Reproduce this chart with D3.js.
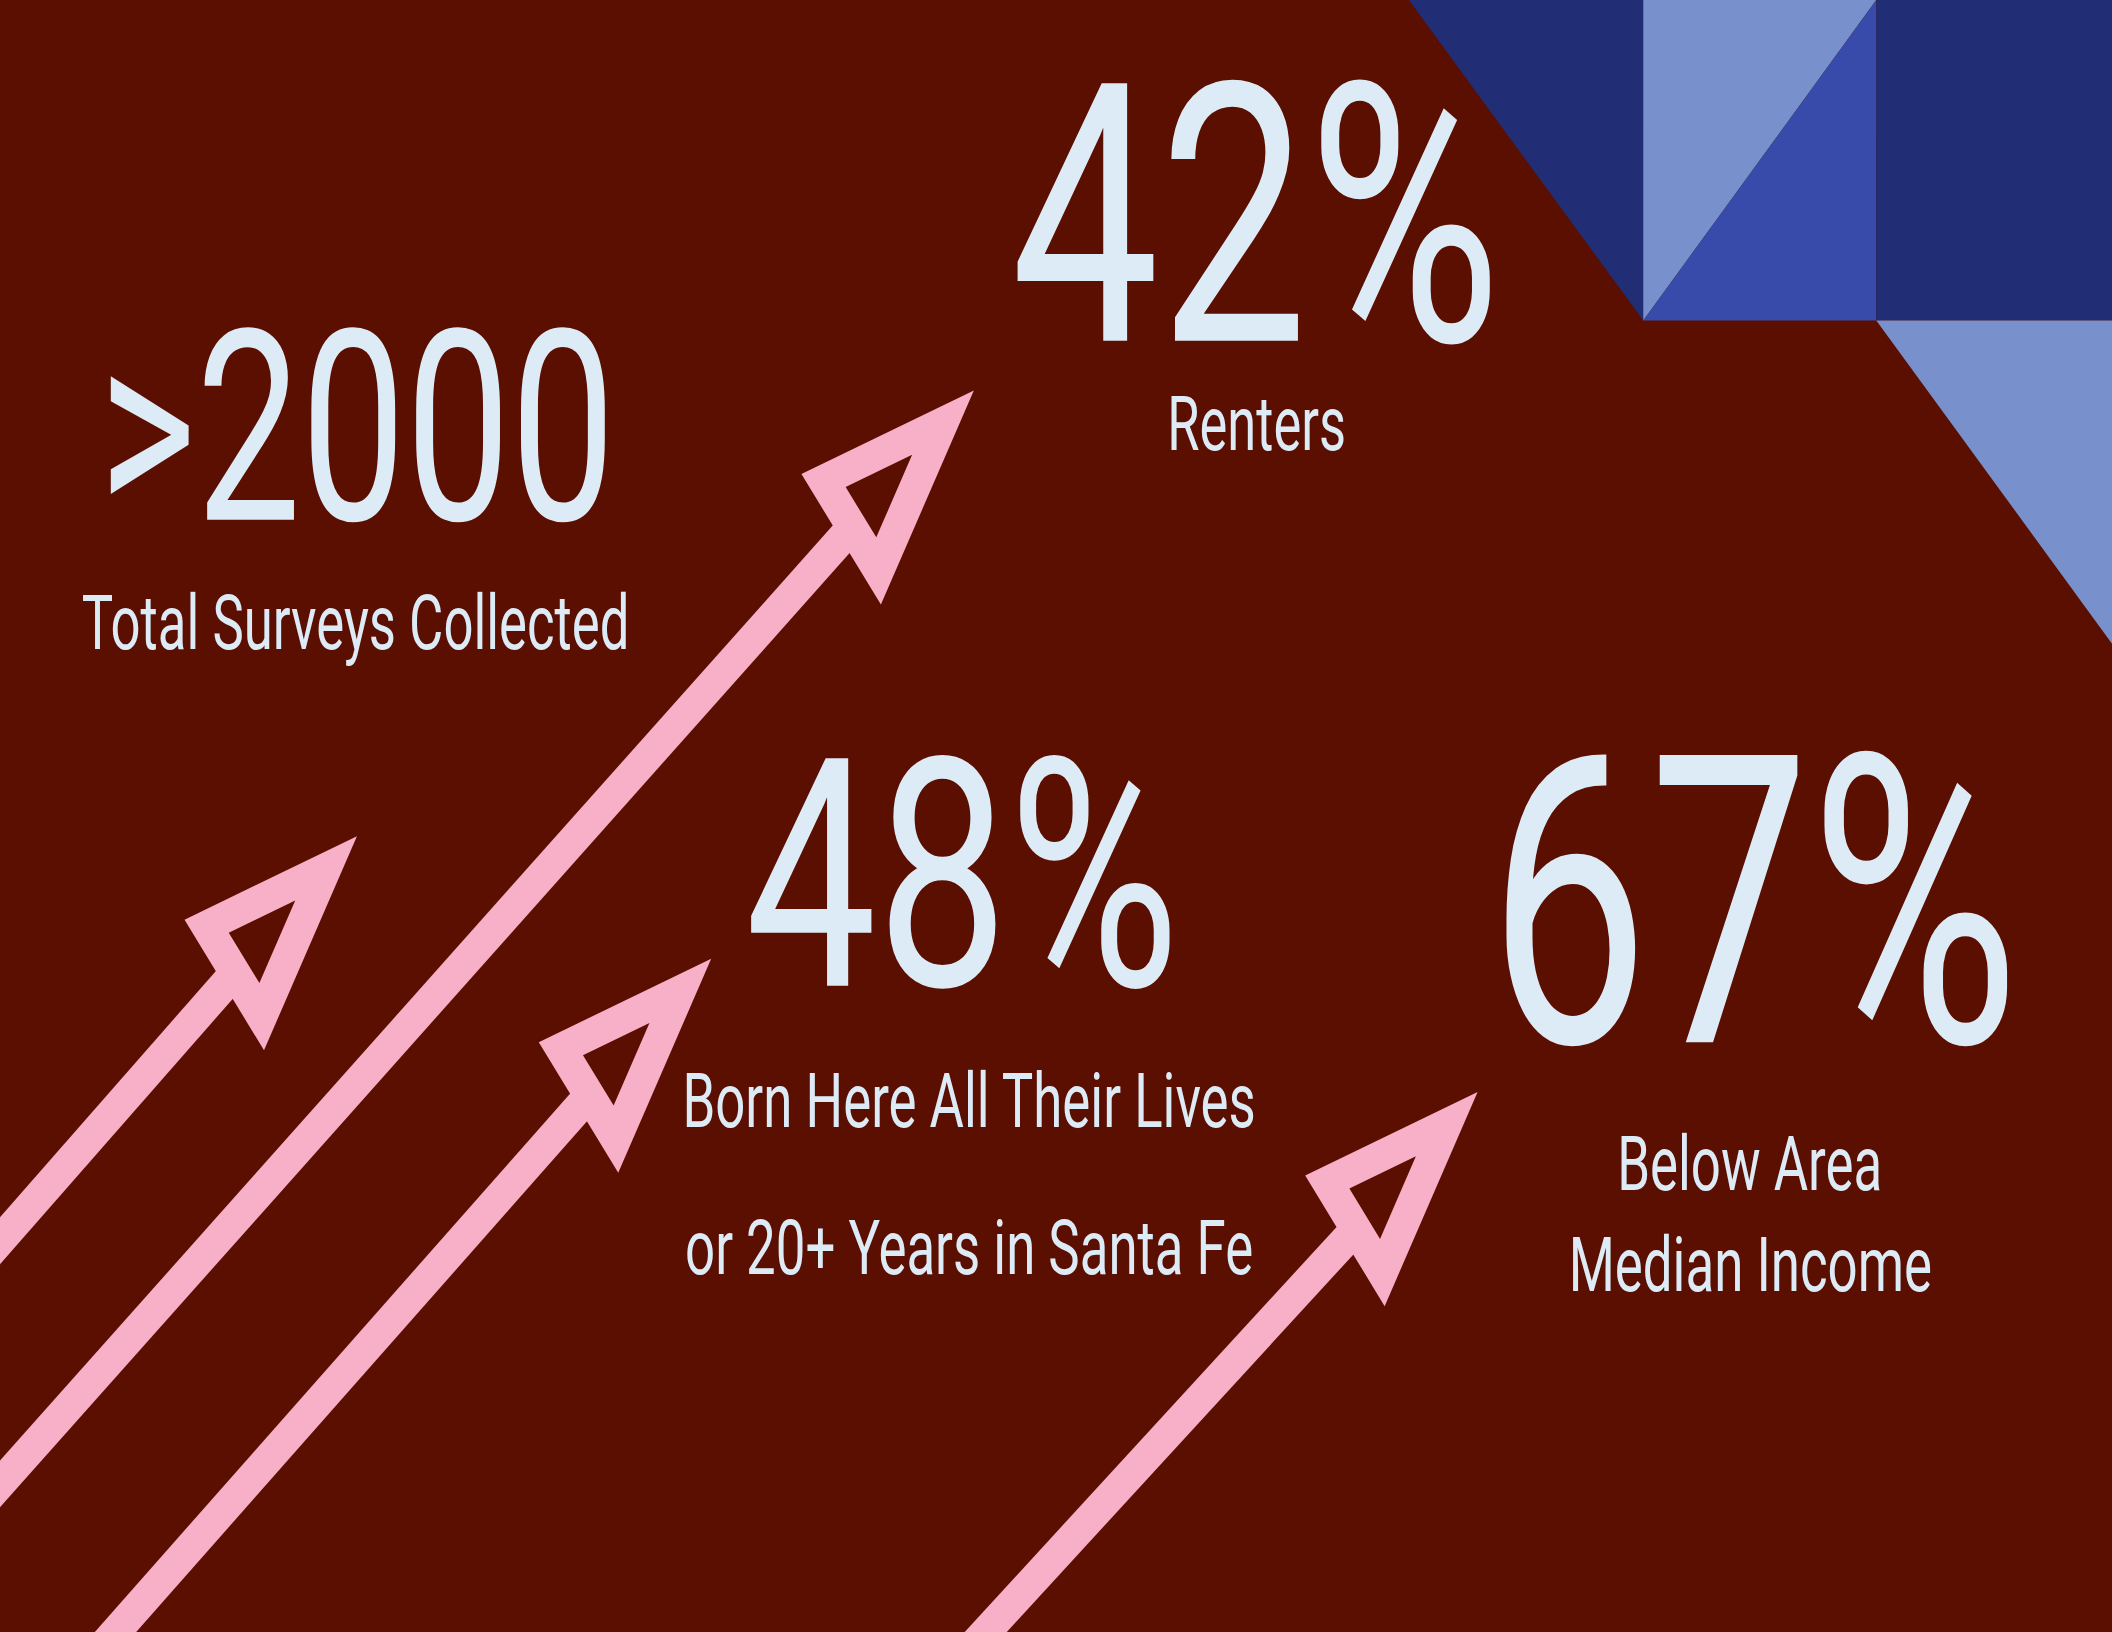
<!DOCTYPE html>
<html>
<head>
<meta charset="utf-8">
<script src="https://cdn.jsdelivr.net/npm/d3@7"></script>
<style>
  html, body { margin: 0; padding: 0; background: #5a0f00; }
  svg { display: block; }
</style>
</head>
<body>
<div id="chart"></div>
<script>
// ---------------- data ----------------
const statValues = [">2000", "42%", "48%", "67%"];
const statLabels = [
  ["Total Surveys Collected"],
  ["Renters"],
  ["Born Here All Their Lives", "or 20+ Years in Santa Fe"],
  ["Below Area", "Median Income"]
];
const arrowIds = ["a", "b", "c", "d"];

// ---------------- layout (reference-frame units, 1568 x 1212) ----------------
const W = 2112, H = 1632;
const x = d3.scaleLinear().domain([0, 1568]).range([0, W]);
const y = d3.scaleLinear().domain([0, 1212]).range([0, H]);

const colors = {
  bg: "#5a0f00", pink: "#f8afc8", text: "#ddebf7",
  navy: "#212d74", light: "#7891cc", mid: "#394baa"
};

// decorative corner polygons
const corner = [
  { fill: colors.navy,  pts: [[1046, 0], [1220, 0], [1220, 238]] },
  { fill: colors.light, pts: [[1220, 0], [1393, 0], [1220, 238]] },
  { fill: colors.mid,   pts: [[1393, 0], [1393, 238], [1220, 238]] },
  { fill: colors.navy,  pts: [[1393, 0], [1568, 0], [1568, 238], [1393, 238]] },
  { fill: colors.light, pts: [[1393, 238], [1568, 238], [1568, 478]] }
];

// arrows: tail point and tip point
const arrowGeom = {
  a: { tail: [0, 922],   tip: [265, 621] },
  b: { tail: [0, 1102],  tip: [723, 290] },
  c: { tail: [86, 1212], tip: [528, 712] },
  d: { tail: [731, 1212], tip: [1097, 811] }
};
// arrow-head back corners, offsets from the tip (ref units)
const headCorners = [[-128, 62], [-69, 159]];
const strokeW = 31;

// text placement: [left ink, right ink, baseline] in ref units, font size in px
const valueLayout = [
  { l: 78,   r: 452,  base: 386, fs: 267 },
  { l: 757,  r: 1108, base: 253, fs: 362 },
  { l: 559,  r: 870,  base: 732, fs: 320 },
  { l: 1112, r: 1492, base: 774, fs: 404 }
];
const labelLayout = [
  [{ l: 62, r: 466, base: 482 }],
  [{ l: 868, r: 998, base: 334 }],
  [{ l: 508, r: 931, base: 837 }, { l: 510, r: 929, base: 946 }],
  [{ l: 1202, r: 1396, base: 884 }, { l: 1166, r: 1433, base: 959 }]
];
const labelFs = 76;

// ---------------- drawing ----------------
const svg = d3.select("#chart").append("svg")
  .attr("width", W).attr("height", H)
  .attr("viewBox", `0 0 ${W} ${H}`);

svg.append("rect").attr("width", W).attr("height", H).attr("fill", colors.bg);

const line = d3.line().x(d => x(d[0])).y(d => y(d[1]));

svg.append("g").selectAll("path").data(corner).join("path")
  .attr("d", d => line(d.pts) + "Z")
  .attr("fill", d => d.fill);

// arrows
const gA = svg.append("g");
arrowIds.forEach(id => {
  const g = arrowGeom[id];
  const tail = [x(g.tail[0]), y(g.tail[1])];
  const tip = [x(g.tip[0]), y(g.tip[1])];
  const dx = tip[0] - tail[0], dy = tip[1] - tail[1];
  const len = Math.hypot(dx, dy);
  const ux = dx / len, uy = dy / len;
  const v1 = [x(g.tip[0] + headCorners[0][0]), y(g.tip[1] + headCorners[0][1])];
  const v2 = [x(g.tip[0] + headCorners[1][0]), y(g.tip[1] + headCorners[1][1])];
  const M = [(v1[0] + v2[0]) / 2, (v1[1] + v2[1]) / 2];
  // incenter & inradius
  const tri = [tip, v1, v2];
  const side = (p, q) => Math.hypot(p[0] - q[0], p[1] - q[1]);
  const a = side(v1, v2), b = side(tip, v2), c = side(tip, v1);
  const per = a + b + c;
  const I = [(a * tip[0] + b * v1[0] + c * v2[0]) / per, (a * tip[1] + b * v1[1] + c * v2[1]) / per];
  const s = per / 2;
  const area = Math.abs((v1[0] - tip[0]) * (v2[1] - tip[1]) - (v2[0] - tip[0]) * (v1[1] - tip[1])) / 2;
  const r = area / s;
  const k = (r - strokeW) / r;
  const inner = tri.map(p => [I[0] + (p[0] - I[0]) * k, I[1] + (p[1] - I[1]) * k]);

  const start = [tail[0] - ux * 300, tail[1] - uy * 300];
  const end = [M[0] + ux * 8, M[1] + uy * 8];
  gA.append("line")
    .attr("x1", start[0]).attr("y1", start[1])
    .attr("x2", end[0]).attr("y2", end[1])
    .attr("stroke", colors.pink).attr("stroke-width", strokeW);

  const p = d3.path();
  p.moveTo(tri[0][0], tri[0][1]); p.lineTo(tri[1][0], tri[1][1]); p.lineTo(tri[2][0], tri[2][1]); p.closePath();
  p.moveTo(inner[0][0], inner[0][1]); p.lineTo(inner[2][0], inner[2][1]); p.lineTo(inner[1][0], inner[1][1]); p.closePath();
  gA.append("path").attr("d", p.toString())
    .attr("fill", colors.pink).attr("fill-rule", "evenodd");
});

// text
const font = "Roboto, 'Noto Sans', sans-serif";
function fitText(g, str, lay, fs) {
  const bear = 0.035 * fs;
  const t = g.append("text")
    .attr("x", x(lay.l) - bear * 0.7)
    .attr("y", y(lay.base))
    .attr("font-family", font)
    .attr("font-size", fs)
    .attr("fill", colors.text)
    .text(str);
  const w = x(lay.r) - x(lay.l) + bear * 1.4;
  t.attr("textLength", w).attr("lengthAdjust", "spacingAndGlyphs");
}

const gT = svg.append("g");
statValues.forEach((v, i) => fitText(gT, v, valueLayout[i], valueLayout[i].fs));
statLabels.forEach((lines, i) => lines.forEach((str, j) => fitText(gT, str, labelLayout[i][j], labelFs)));
</script>
</body>
</html>
